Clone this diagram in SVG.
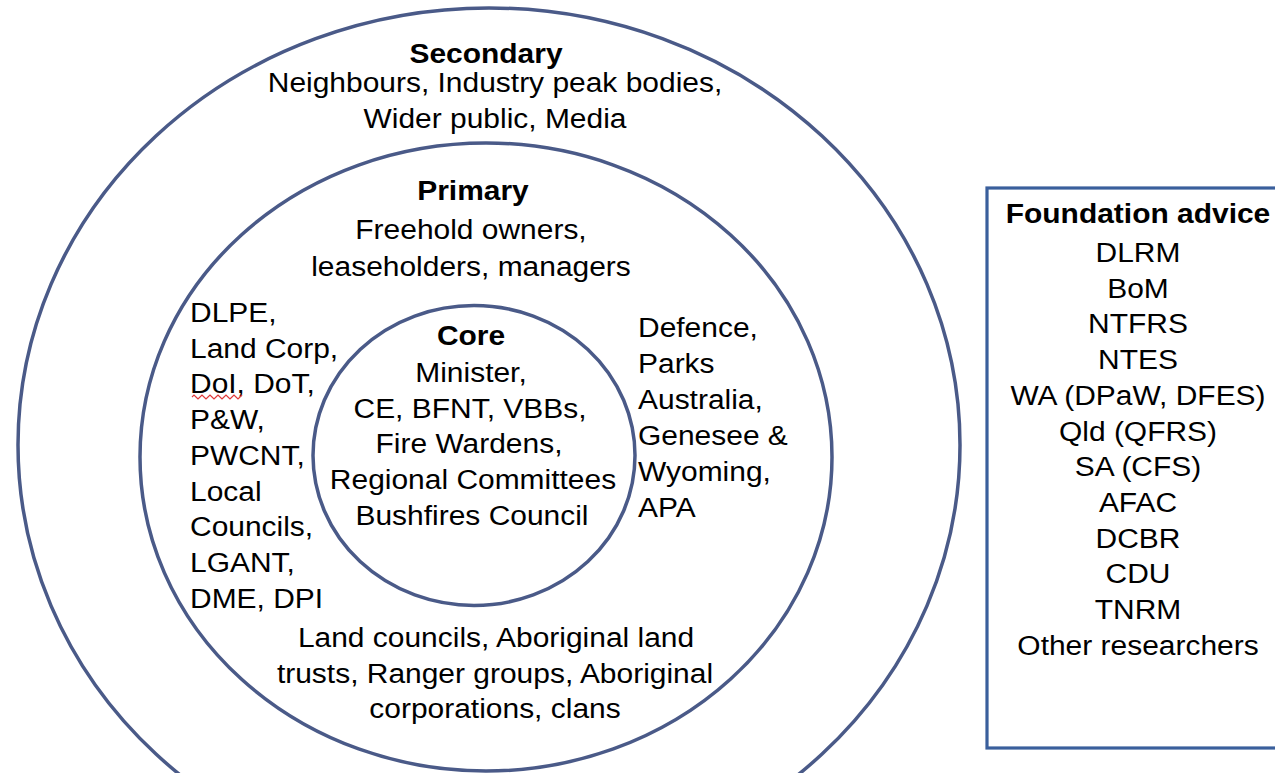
<svg xmlns="http://www.w3.org/2000/svg" width="1275" height="773" viewBox="0 0 1275 773">
<style>
.ring{fill:none;stroke:#4A5A88;stroke-width:3.5}
.box{fill:none;stroke:#3A5F9C;stroke-width:3.2}
.t{font-family:"Liberation Sans",Arial,sans-serif;font-size:28px;fill:#000}
.b{font-weight:bold}
.c{text-anchor:middle}
.wavy{fill:none;stroke:#E03A3A;stroke-width:1.1}
</style>
<rect width="1275" height="773" fill="#fff"/>
<g id="connectors"></g>
<g id="secondary">
<ellipse class="ring" cx="489" cy="445" rx="471" ry="437"/>
<text class="t b c" transform="translate(486,63) scale(1.07,1)">Secondary</text>
<text class="t c" transform="translate(495,92) scale(1.07,1)">Neighbours, Industry peak bodies,</text>
<text class="t c" transform="translate(495,128) scale(1.07,1)">Wider public, Media</text>
</g>
<g id="primary">
<ellipse class="ring" cx="486" cy="457" rx="346" ry="314"/>
<text class="t b c" transform="translate(473,200) scale(1.07,1)">Primary</text>
<text class="t c" transform="translate(471,239) scale(1.07,1)">Freehold owners,</text>
<text class="t c" transform="translate(471,276) scale(1.07,1)">leaseholders, managers</text>
<text class="t" transform="translate(190,322) scale(1.07,1)">DLPE,</text>
<text class="t" transform="translate(190,357.7) scale(1.07,1)">Land Corp,</text>
<text class="t" transform="translate(190,393.4) scale(1.07,1)">DoI, DoT,</text>
<path class="wavy" d="M192,397 l2,-2 l2,2 l2,2 l2,-2 l2,-2 l2,2 l2,2 l2,-2 l2,-2 l2,2 l2,2 l2,-2 l2,-2 l2,2 l2,2 l2,-2 l2,-2 l2,2 l2,2 l2,-2 l2,-2 l2,2 l2,2 l2,-2 l2,-2"/>
<text class="t" transform="translate(190,429.1) scale(1.07,1)">P&amp;W,</text>
<text class="t" transform="translate(190,464.8) scale(1.07,1)">PWCNT,</text>
<text class="t" transform="translate(190,500.5) scale(1.07,1)">Local</text>
<text class="t" transform="translate(190,536.2) scale(1.07,1)">Councils,</text>
<text class="t" transform="translate(190,571.9) scale(1.07,1)">LGANT,</text>
<text class="t" transform="translate(190,607.6) scale(1.07,1)">DME, DPI</text>
<text class="t" transform="translate(638,337) scale(1.07,1)">Defence,</text>
<text class="t" transform="translate(638,373) scale(1.07,1)">Parks</text>
<text class="t" transform="translate(638,409) scale(1.07,1)">Australia,</text>
<text class="t" transform="translate(638,445) scale(1.07,1)">Genesee &amp;</text>
<text class="t" transform="translate(638,481) scale(1.07,1)">Wyoming,</text>
<text class="t" transform="translate(638,517) scale(1.07,1)">APA</text>
<text class="t c" transform="translate(496,647) scale(1.07,1)">Land councils, Aboriginal land</text>
<text class="t c" transform="translate(495,683) scale(1.07,1)">trusts, Ranger groups, Aboriginal</text>
<text class="t c" transform="translate(495,718) scale(1.07,1)">corporations, clans</text>
</g>
<g id="core">
<ellipse class="ring" cx="474" cy="455.5" rx="161" ry="150"/>
<text class="t b c" transform="translate(471,345) scale(1.07,1)">Core</text>
<text class="t c" transform="translate(471,382) scale(1.07,1)">Minister,</text>
<text class="t c" transform="translate(470,417.7) scale(1.07,1)">CE, BFNT, VBBs,</text>
<text class="t c" transform="translate(469,453.4) scale(1.07,1)">Fire Wardens,</text>
<text class="t c" transform="translate(473,489.1) scale(1.07,1)">Regional Committees</text>
<text class="t c" transform="translate(472,524.8) scale(1.07,1)">Bushfires Council</text>
</g>
<g id="foundation">
<rect class="box" x="987" y="188" width="300" height="560"/>
<text class="t b c" transform="translate(1138,223) scale(1.07,1)">Foundation advice</text>
<text class="t c" transform="translate(1138,262) scale(1.07,1)">DLRM</text>
<text class="t c" transform="translate(1138,297.7) scale(1.07,1)">BoM</text>
<text class="t c" transform="translate(1138,333.4) scale(1.07,1)">NTFRS</text>
<text class="t c" transform="translate(1138,369.1) scale(1.07,1)">NTES</text>
<text class="t c" transform="translate(1138,404.8) scale(1.07,1)">WA (DPaW, DFES)</text>
<text class="t c" transform="translate(1138,440.5) scale(1.07,1)">Qld (QFRS)</text>
<text class="t c" transform="translate(1138,476.2) scale(1.07,1)">SA (CFS)</text>
<text class="t c" transform="translate(1138,511.9) scale(1.07,1)">AFAC</text>
<text class="t c" transform="translate(1138,547.6) scale(1.07,1)">DCBR</text>
<text class="t c" transform="translate(1138,583.3) scale(1.07,1)">CDU</text>
<text class="t c" transform="translate(1138,619) scale(1.07,1)">TNRM</text>
<text class="t c" transform="translate(1138,654.7) scale(1.07,1)">Other researchers</text>
</g>
</svg>
